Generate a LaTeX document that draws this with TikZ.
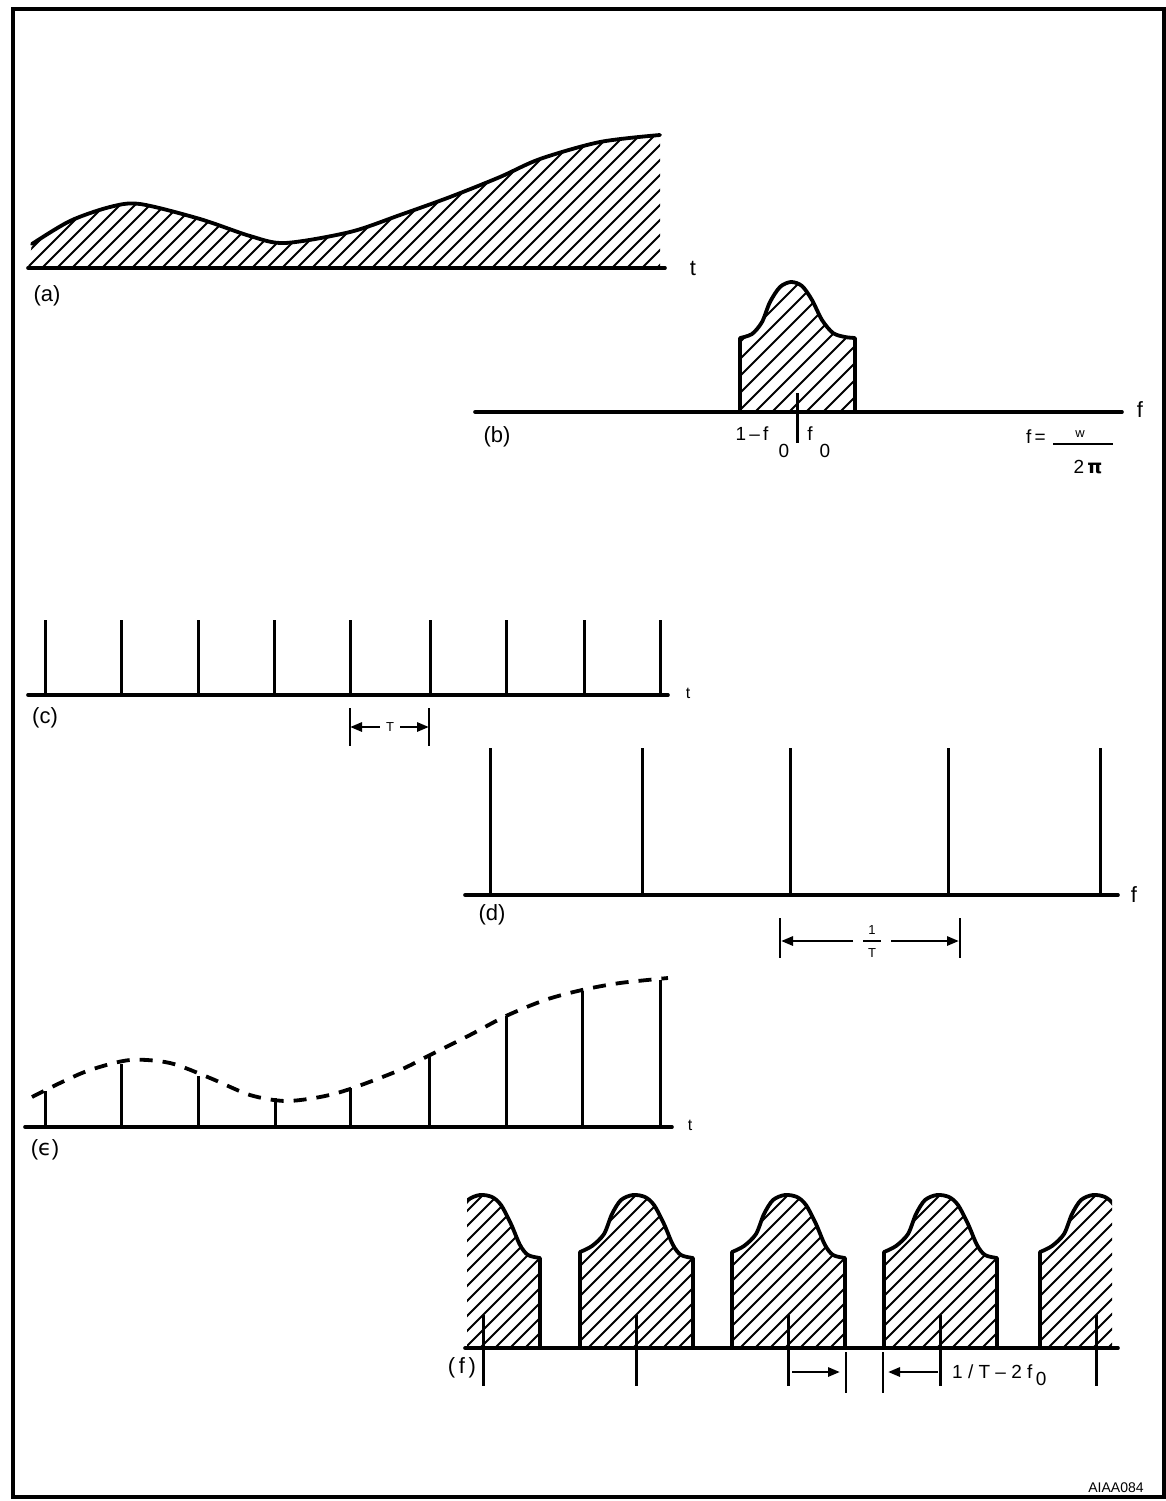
\documentclass[tikz,border=0pt]{standalone}
\usepackage{fontspec}
\setmainfont{Liberation Sans}
\newfontfamily\dejavu{DejaVu Sans}
\usetikzlibrary{arrows.meta}
\begin{document}
\begin{tikzpicture}[x=1pt,y=-1pt,
  axisline/.style={line width=3.6pt, line cap=round},
  curveline/.style={line width=3.8pt, line cap=round, line join=round},
  spike/.style={line width=3pt},
  hatchline/.style={line width=1.9pt},
  lbl/.style={font=\fontsize{22}{24}\selectfont, inner sep=0pt},
  smalllbl/.style={font=\fontsize{19}{21}\selectfont, inner sep=0pt},
  tinylbl/.style={font=\fontsize{13}{14}\selectfont, inner sep=0pt},
  dimbar/.style={line width=2.8pt},
  dimarrow/.style={line width=2.8pt, -{Triangle[length=12pt,width=9pt]}},
  dashcurve/.style={line width=3.8pt, dash pattern=on 13pt off 10pt},
]
\useasboundingbox (0,0) rectangle (1166,1501);
\fill[white] (0,0) rectangle (1166,1501);
\draw[line width=3.5pt] (13,9) rectangle (1164,1497);

% ---------- (a)
\begin{scope}
\clip (28,268) -- plot[smooth] coordinates {(32,244) (70,221) (110,207) (140,204) (200,219) (250,236) (285,243) (350,232) (400,215) (450,197) (500,177) (540,159) (600,142) (660,135)} -- (660,268) -- cycle;
\foreach \k in {-140,-125,...,670} \draw[hatchline] (\k,270) -- ++(160,-160);
\end{scope}
\draw[curveline] plot[smooth] coordinates {(32,244) (70,221) (110,207) (140,204) (200,219) (250,236) (285,243) (350,232) (400,215) (450,197) (500,177) (540,159) (600,142) (660,135)};
\draw[axisline] (28,268) -- (665,268);
\node[lbl] (ta) at (693,268) {t};
\node[lbl] (la) at (47,296) {(a)};

% ---------- (b)
\begin{scope}
\clip (740,412) -- plot[smooth] coordinates {(740,338) (752,334) (762,322) (770,302) (780,287) (791,282) (802,286) (812,300) (822,320) (833,333) (845,337) (855,338)} -- (855,412) -- cycle;
\foreach \k in {600,617,...,860} \draw[hatchline] (\k,414) -- ++(150,-150);
\end{scope}
\draw[curveline] (740,412) -- plot[smooth] coordinates {(740,338) (752,334) (762,322) (770,302) (780,287) (791,282) (802,286) (812,300) (822,320) (833,333) (845,337) (855,338)} -- (855,412);
\draw[spike] (797,393) -- (797,443);
\draw[axisline] (475,412) -- (1122,412);
\node[lbl] (fb) at (1140,410) {f};
\node[lbl] (lb) at (497,437) {(b)};
\node[smalllbl] (onem) at (752,434) {1\,--\,f};
\node[smalllbl] (sub1) at (784,451) {0};
\node[smalllbl] (fzero) at (810,434) {f};
\node[smalllbl] (sub2) at (825,451) {0};
\node[smalllbl] (feq) at (1036,437) {f\,=};
\draw[line width=1.8pt] (1053,444) -- (1113,444);
\node[tinylbl] (wnum) at (1080,434) {w};
\node[smalllbl] (twopi) at (1088,467) {2\,{\dejavu\bfseries π}};

% ---------- (c)
\draw[axisline] (28,695) -- (668,695);
\foreach \x in {45,121,198,274,350,430,506,584,660} \draw[spike] (\x,620) -- (\x,695);
\node[lbl] (tc) at (688,693) {\fontsize{16}{17}\selectfont t};
\node[lbl] (lc) at (45,718) {(c)};
\coordinate (cL) at (350,727);
\coordinate (cR) at (429,727);
\draw[dimbar] (350,708) -- (350,746);
\draw[dimbar] (429,708) -- (429,746);
\node[tinylbl] (tT) at (390,727) {T};
\draw[dimarrow] (tT.west) ++(-6,0) -- (cL);
\draw[dimarrow] (tT.east) ++(6,0) -- (cR);

% ---------- (d)
\draw[axisline] (465,895) -- (1118,895);
\foreach \x in {490,642,790,948,1100} \draw[spike] (\x,748) -- (\x,895);
\node[lbl] (fd) at (1134,895) {f};
\node[lbl] (ld) at (492,915) {(d)};
\draw[dimbar] (780,918) -- (780,958);
\draw[dimbar] (960,918) -- (960,958);
\coordinate (dL) at (781,941);
\coordinate (dR) at (959,941);
\node[tinylbl] (done) at (872,930) {1};
\draw[line width=1.8pt] (863,941) -- (881,941);
\node[tinylbl] (dT) at (872,953) {T};
\draw[dimarrow] (853,941) -- (dL);
\draw[dimarrow] (891,941) -- (dR);

% ---------- (e)
\draw[dashcurve] plot[smooth] coordinates {(32,1097) (60,1083) (90,1070) (130,1060) (170,1063) (210,1078) (250,1095) (285,1101) (320,1097) (350,1089) (400,1070) (430,1055) (470,1035) (506,1016) (545,1000) (582,990) (620,983) (668,978)};
\foreach \x/\y in {45/1091,121/1064,198/1076,275/1098,350/1088,429/1054,506/1016,582/991,660/980} \draw[spike] (\x,\y) -- (\x,1127);
\draw[axisline] (25,1127) -- (672,1127);
\node[lbl] (te) at (690,1125) {\fontsize{16}{17}\selectfont t};
\node[lbl] (le) at (45,1150) {({\dejavu ϵ})};

% ---------- (f)
\begin{scope}
\clip (467,1150) rectangle (1112,1360);
\foreach \c in {483,636,788,940,1096}{
  \begin{scope}[shift={(\c,0)}]
    \begin{scope}
      \clip (-56,1348) -- plot[smooth] coordinates {(-56,1252) (-44,1246) (-32,1234) (-24,1214) (-15,1200) (-3,1195) (9,1197) (18,1205) (28,1224) (37,1245) (45,1255) (57,1258)} -- (57,1348) -- cycle;
      \foreach \k in {-230,-215,...,70} \draw[hatchline] (\k,1350) -- ++(170,-170);
    \end{scope}
    \draw[curveline] (-56,1348) -- plot[smooth] coordinates {(-56,1252) (-44,1246) (-32,1234) (-24,1214) (-15,1200) (-3,1195) (9,1197) (18,1205) (28,1224) (37,1245) (45,1255) (57,1258)} -- (57,1348);
  \end{scope}
}
\end{scope}
\draw[axisline] (465,1348) -- (1118,1348);
\foreach \x in {483,636,788,940,1096} \draw[spike] (\x,1315) -- (\x,1386);
\node[lbl] (lf) at (462,1368) {(\,f\,)};
\draw[dimbar] (846,1352) -- (846,1393);
\draw[dimbar] (883,1352) -- (883,1393);
\coordinate (fA) at (792,1372);
\coordinate (fB) at (840,1372);
\coordinate (fC) at (938,1372);
\coordinate (fD) at (888,1372);
\draw[dimarrow] (fA) -- (fB);
\draw[dimarrow] (fC) -- (fD);
\node[smalllbl, anchor=base west] (flab) at (952,1378) {1 / T -- 2 f};
\node[smalllbl, anchor=base west] (fsub) at ([xshift=3pt,yshift=-7pt]flab.base east) {0};

\node[tinylbl] (code) at (1116,1488) {\fontsize{14}{15}\selectfont AIAA084};
\end{tikzpicture}
\end{document}
